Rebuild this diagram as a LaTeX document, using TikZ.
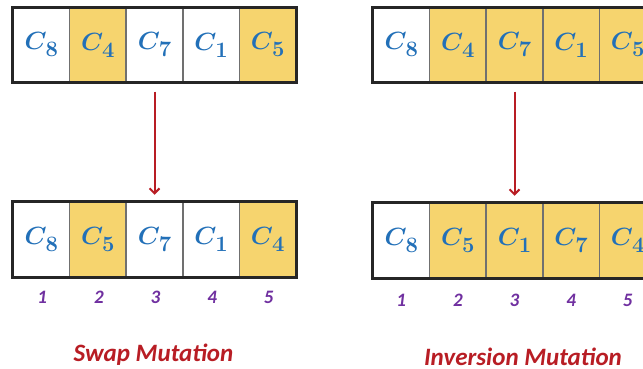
\documentclass[tikz,border=0pt]{standalone}
\usepackage{fontspec}
\usepackage{amsmath,bm}
\newfontfamily\labelfont{Carlito}
\usetikzlibrary{arrows.meta}
\definecolor{cellyellow}{HTML}{F6D46E}
\definecolor{cblue}{HTML}{2270B8}
\definecolor{numpurple}{HTML}{7030A0}
\definecolor{arrred}{HTML}{B81D24}
\definecolor{cellgray}{HTML}{707070}
\tikzset{
  cell/.style={draw=cellgray, line width=1.5pt, minimum width=56.6pt, minimum height=74pt, inner sep=0pt, text=cblue},
  ycell/.style={cell, fill=cellyellow},
  wcell/.style={cell, fill=white},
  outer/.style={draw=black!85, line width=3pt},
  idx/.style={text=numpurple, font=\labelfont\bfseries\itshape\fontsize{19}{19}\selectfont},
  title/.style={text=arrred, font=\labelfont\bfseries\itshape\fontsize{25}{25}\selectfont},
  mutarrow/.style={draw=arrred, line width=2pt, -{Straight Barb[length=5pt,width=10pt,line width=2pt]}, shorten <=9pt, shorten >=7pt}
}
\newcommand{\gene}[1]{{\fontsize{29}{29}\selectfont$\bm{C}$}\kern-1pt\raisebox{-7pt}{\fontsize{22}{22}\selectfont\bfseries #1}}
\begin{document}
\begin{tikzpicture}[x=1pt,y=-1pt]
\useasboundingbox (0,0) rectangle (643,369);
\clip (0,0) rectangle (643,369);
% left top
\node[wcell] (lt1) at (41.3,45) {\gene{8}};
\node[ycell] (lt2) at (97.9,45) {\gene{4}};
\node[wcell] (lt3) at (154.5,45) {\gene{7}};
\node[wcell] (lt4) at (211.1,45) {\gene{1}};
\node[ycell] (lt5) at (267.7,45) {\gene{5}};
\draw[outer] (lt1.north west) rectangle (lt5.south east);
% left bottom
\node[wcell] (lb1) at (41.3,239.5) {\gene{8}};
\node[ycell] (lb2) at (97.9,239.5) {\gene{5}};
\node[wcell] (lb3) at (154.5,239.5) {\gene{7}};
\node[wcell] (lb4) at (211.1,239.5) {\gene{1}};
\node[ycell] (lb5) at (267.7,239.5) {\gene{4}};
\draw[outer] (lb1.north west) rectangle (lb5.south east);
% right top
\node[wcell] (rt1) at (401.3,45) {\gene{8}};
\node[ycell] (rt2) at (457.9,45) {\gene{4}};
\node[ycell] (rt3) at (514.5,45) {\gene{7}};
\node[ycell] (rt4) at (571.1,45) {\gene{1}};
\node[ycell] (rt5) at (627.7,45) {\gene{5}};
\draw[outer] (rt1.north west) rectangle (rt5.south east);
% right bottom
\node[wcell] (rb1) at (401.3,240.5) {\gene{8}};
\node[ycell] (rb2) at (457.9,240.5) {\gene{5}};
\node[ycell] (rb3) at (514.5,240.5) {\gene{1}};
\node[ycell] (rb4) at (571.1,240.5) {\gene{7}};
\node[ycell] (rb5) at (627.7,240.5) {\gene{4}};
\draw[outer] (rb1.north west) rectangle (rb5.south east);
% arrows
\draw[mutarrow] (lt3.south) -- (lb3.north);
\draw[mutarrow] (rt3.south) -- (rb3.north);
% indices
\foreach \i/\x in {1/41.3,2/97.9,3/154.5,4/211.1,5/267.7}{
  \node[idx] (li\i) at (\x+1,297) {\i};
}
\foreach \i/\x in {1/401.3,2/457.9,3/514.5,4/571.1,5/627.7}{
  \node[idx] (ri\i) at (\x,300) {\i};
}
% titles
\node[title] (swap) at (153.5,355) {Swap Mutation};
\node[title] (inv) at (523,357) {Inversion Mutation};
\end{tikzpicture}
\end{document}
